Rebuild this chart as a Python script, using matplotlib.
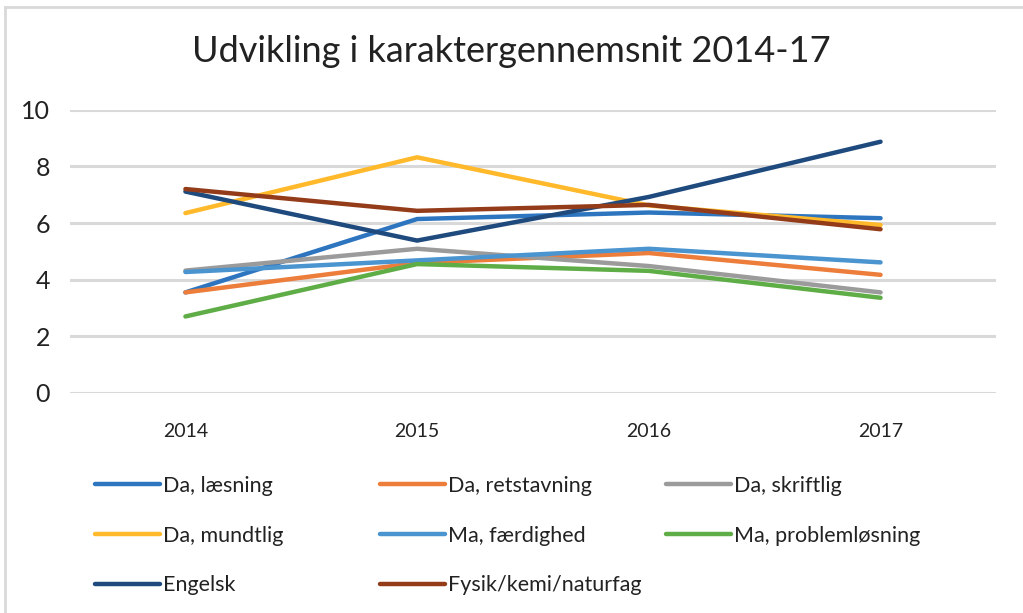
"""Udvikling i karaktergennemsnit 2014-17 - line chart."""

import matplotlib
matplotlib.use("Agg")
import matplotlib.pyplot as plt
from matplotlib.lines import Line2D

plt.rcParams["font.family"] = ["Lato", "DejaVu Sans"]

years = ["2014", "2015", "2016", "2017"]

da_laesning = [3.55, 6.14, 6.37, 6.17]
da_retstavning = [3.55, 4.59, 4.94, 4.17]
da_skriftlig = [4.32, 5.09, 4.48, 3.55]
da_mundtlig = [6.35, 8.32, 6.62, 5.93]
ma_faerdighed = [4.27, 4.68, 5.09, 4.61]
ma_problemloesning = [2.70, 4.55, 4.31, 3.36]
engelsk = [7.11, 5.38, 6.92, 8.87]
fysik = [7.20, 6.43, 6.64, 5.78]

series = [
    ("Da, læsning", da_laesning, "#2E75C0"),
    ("Da, retstavning", da_retstavning, "#ED7D3A"),
    ("Da, skriftlig", da_skriftlig, "#9B9B9B"),
    ("Da, mundtlig", da_mundtlig, "#FFB92A"),
    ("Ma, færdighed", ma_faerdighed, "#4A94D0"),
    ("Ma, problemløsning", ma_problemloesning, "#5FAD46"),
    ("Engelsk", engelsk, "#1F4A7E"),
    ("Fysik/kemi/naturfag", fysik, "#943C1A"),
]


def main():
    fig = plt.figure(figsize=(10.23, 6.13), dpi=100)
    ax = fig.add_axes([0.068, 0.359, 0.906, 0.462])

    x = list(range(len(years)))
    for label, values, color in series:
        ax.plot(x, values, color=color, linewidth=3.2, solid_capstyle="round",
                solid_joinstyle="round", label=label)

    ax.set_xlim(-0.5, len(years) - 0.5)
    ax.set_ylim(0, 10)
    ax.set_yticks(range(0, 11, 2))
    ax.set_xticks(x)
    ax.set_xticklabels(years)
    ax.grid(axis="y", color="#D9D9D9", linewidth=2.2)
    ax.set_axisbelow(True)
    for spine in ax.spines.values():
        spine.set_visible(False)
    ax.tick_params(axis="y", length=0, labelsize=18, pad=14, labelcolor="#222222")
    ax.tick_params(axis="x", length=0, labelsize=14, pad=22, labelcolor="#222222")

    fig.text(0.5, 1 - 52 / 613, "Udvikling i karaktergennemsnit 2014-17",
             ha="center", va="center", fontsize=26, color="#222222")

    # legend laid out in three columns with fixed starting positions
    col_x = [95 / 1023, 380 / 1023, 666 / 1023]
    for c in range(3):
        items = series[c::3]
        handles = [Line2D([], [], color=col, linewidth=3.2, solid_capstyle="round")
                   for _, _, col in items]
        labels = [lab for lab, _, _ in items]
        fig.legend(handles, labels, loc="upper left",
                   bbox_to_anchor=(col_x[c], 1 - 476 / 613), frameon=False,
                   fontsize=15.5, handlelength=3.0, handletextpad=0.15,
                   labelspacing=1.38, borderpad=0, borderaxespad=0,
                   labelcolor="#222222")

    # light chart border (top and left visible)
    fig.add_artist(Line2D([5 / 1023, 5 / 1023], [0, 1 - 7 / 613],
                          transform=fig.transFigure, color="#D9D9D9", linewidth=2))
    fig.add_artist(Line2D([5 / 1023, 1], [1 - 7 / 613, 1 - 7 / 613],
                          transform=fig.transFigure, color="#D9D9D9", linewidth=2))

    fig.savefig("out.png", dpi=100)


if __name__ == "__main__":
    main()
